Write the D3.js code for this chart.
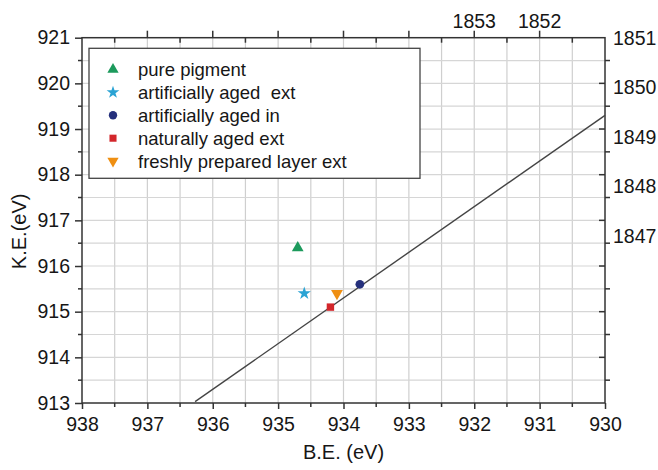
<!DOCTYPE html>
<html>
<head>
<meta charset="utf-8">
<script src="https://d3js.org/d3.v7.min.js"></script>
<style>
  body { margin: 0; background: #fff; }
  text { font-family: "Liberation Sans", Arial, sans-serif; fill: #161616; }
</style>
</head>
<body>
<script>
// data
var seriesNames = ["pure pigment", "artificially aged  ext", "artificially aged in", "naturally aged ext", "freshly prepared layer ext"];
var seriesBE = [934.7, 934.6, 933.75, 934.2, 934.1];
var seriesKE = [916.4, 915.4, 915.6, 915.1, 915.4];
var seriesColors = ["#1c9a5c", "#2aa3d4", "#25307c", "#d3262b", "#ef8f12"];
var seriesSymbols = [d3.symbolTriangle, d3.symbolStar, d3.symbolCircle, d3.symbolSquare, "down"];

// line of constant Auger parameter
var lineBE = [936.27, 930];
var lineKE = [913.03, 919.3];

var bottomTicks = [938, 937, 936, 935, 934, 933, 932, 931, 930];
var leftTicks = [913, 914, 915, 916, 917, 918, 919, 920, 921];
var topLabels = [1853, 1852];
var rightLabels = [1851, 1850, 1849, 1848, 1847];

var W = 658, H = 470;
var margin = {top: 37.7, left: 82, right: 53, bottom: 67};
var pw = W - margin.left - margin.right;
var ph = H - margin.top - margin.bottom;

var svg = d3.select("body").append("svg")
  .attr("width", W)
  .attr("height", H);

var x = d3.scaleLinear().domain([938, 930]).range([margin.left, margin.left + pw]);
var y = d3.scaleLinear().domain([913, 921]).range([margin.top + ph, margin.top]);
// top axis: alpha' = B.E. + 921
var xTop = d3.scaleLinear().domain([938 + 921, 930 + 921]).range(x.range());
// right axis has its own spacing
var yRight = d3.scaleLinear().domain([1851 - ph / 49.5, 1851]).range(y.range());

var halfX = d3.range(938, 929.9, -0.5);
var halfY = d3.range(913, 921.1, 0.5);

// grid
svg.append("g").selectAll("line").data(halfX.slice(1, -1)).enter().append("line")
  .attr("x1", d => x(d)).attr("x2", d => x(d))
  .attr("y1", margin.top).attr("y2", margin.top + ph)
  .attr("stroke", "#cfcfcf").attr("stroke-width", 1.2);
svg.append("g").selectAll("line").data(halfY.slice(1, -1)).enter().append("line")
  .attr("y1", d => y(d)).attr("y2", d => y(d))
  .attr("x1", margin.left).attr("x2", margin.left + pw)
  .attr("stroke", "#d6d6d6").attr("stroke-width", 1.2);

// frame
svg.append("rect")
  .attr("x", margin.left).attr("y", margin.top)
  .attr("width", pw).attr("height", ph)
  .attr("fill", "none").attr("stroke", "#333").attr("stroke-width", 1.5);

var axisColor = "#333";

// bottom axis
var bottomAx = d3.axisBottom(x).tickValues(bottomTicks).tickSize(6).tickPadding(5).tickFormat(d3.format("d"));
var gB = svg.append("g").attr("transform", `translate(0,${margin.top + ph})`).call(bottomAx);
gB.select(".domain").remove();
gB.selectAll("line").attr("stroke", axisColor).attr("stroke-width", 1.5);
gB.selectAll("text").style("font-size", "19.5px").attr("dy", "0.85em");
svg.append("g").selectAll("line").data(halfX.filter(d => d % 1 != 0)).enter().append("line")
  .attr("x1", d => x(d)).attr("x2", d => x(d))
  .attr("y1", margin.top + ph).attr("y2", margin.top + ph + 4)
  .attr("stroke", axisColor).attr("stroke-width", 1.5);

// left axis
var leftAx = d3.axisLeft(y).tickValues(leftTicks).tickSize(7).tickPadding(5).tickFormat(d3.format("d"));
var gL = svg.append("g").attr("transform", `translate(${margin.left},0)`).call(leftAx);
gL.select(".domain").remove();
gL.selectAll("line").attr("stroke", axisColor).attr("stroke-width", 1.5);
gL.selectAll("text").style("font-size", "19.5px");
svg.append("g").selectAll("line").data(halfY.filter(d => d % 1 != 0)).enter().append("line")
  .attr("y1", d => y(d)).attr("y2", d => y(d))
  .attr("x1", margin.left - 4).attr("x2", margin.left)
  .attr("stroke", axisColor).attr("stroke-width", 1.5);

// top axis: integer ticks up, half ticks down
svg.append("g").selectAll("line").data(halfX.slice(1, -1)).enter().append("line")
  .attr("x1", d => x(d)).attr("x2", d => x(d))
  .attr("y1", margin.top)
  .attr("y2", d => d % 1 == 0 ? margin.top - 7 : margin.top + 5)
  .attr("stroke", axisColor).attr("stroke-width", 1.5);
svg.append("g").selectAll("text").data(topLabels).enter().append("text")
  .attr("x", d => xTop(d)).attr("y", 28)
  .attr("text-anchor", "middle")
  .style("font-size", "19.5px")
  .text(d => d);

// right axis: integer K.E. ticks inward, half ticks outward
svg.append("g").selectAll("line").data(halfY.slice(1, -1)).enter().append("line")
  .attr("y1", d => y(d)).attr("y2", d => y(d))
  .attr("x1", margin.left + pw)
  .attr("x2", d => d % 1 == 0 ? margin.left + pw - 6 : margin.left + pw + 5)
  .attr("stroke", axisColor).attr("stroke-width", 1.5);
svg.append("g").selectAll("text").data(rightLabels).enter().append("text")
  .attr("x", margin.left + pw + 8).attr("y", d => yRight(d))
  .attr("dy", "0.36em")
  .style("font-size", "19.5px")
  .text(d => d);

// axis titles
svg.append("text")
  .attr("x", x(934)).attr("y", 459)
  .attr("text-anchor", "middle")
  .style("font-size", "20px")
  .text("B.E. (eV)");
svg.append("text")
  .attr("transform", `translate(26,${y(917) + 11}) rotate(-90)`)
  .attr("text-anchor", "middle")
  .style("font-size", "20px")
  .text("K.E.(eV)");

// Auger parameter line
var lineData = lineBE.map((d, i) => ({be: d, ke: lineKE[i]}));
svg.append("path")
  .datum(lineData)
  .attr("d", d3.line().x(d => x(d.be)).y(d => y(d.ke)))
  .attr("fill", "none").attr("stroke", "#444").attr("stroke-width", 1.4);

function symPath(s, size) {
  if (s == "down") return d3.symbol().type(d3.symbolTriangle).size(size)();
  return d3.symbol().type(s).size(size)();
}
var symSizes = [60, 55, 60, 55, 60];

// points
seriesNames.forEach(function(n, i) {
  svg.append("path")
    .attr("d", symPath(seriesSymbols[i], symSizes[i]))
    .attr("transform", `translate(${x(seriesBE[i])},${y(seriesKE[i])})` + (seriesSymbols[i] == "down" ? " rotate(180)" : ""))
    .attr("fill", seriesColors[i]);
});

// legend
var leg = svg.append("g");
leg.append("rect")
  .attr("x", 89).attr("y", 48.3).attr("width", 331).attr("height", 130)
  .attr("fill", "#fff").attr("stroke", "#444").attr("stroke-width", 1.3);
seriesNames.forEach(function(n, i) {
  var ly = 69.5 + i * 22.9;
  leg.append("path")
    .attr("d", symPath(seriesSymbols[i], symSizes[i] - 5))
    .attr("transform", `translate(113,${ly})` + (seriesSymbols[i] == "down" ? " rotate(180)" : ""))
    .attr("fill", seriesColors[i]);
  leg.append("text")
    .attr("x", 138).attr("y", ly)
    .attr("dy", "0.36em")
    .style("font-size", "18.5px")
    .style("white-space", "pre")
    .text(n);
});
</script>
</body>
</html>
